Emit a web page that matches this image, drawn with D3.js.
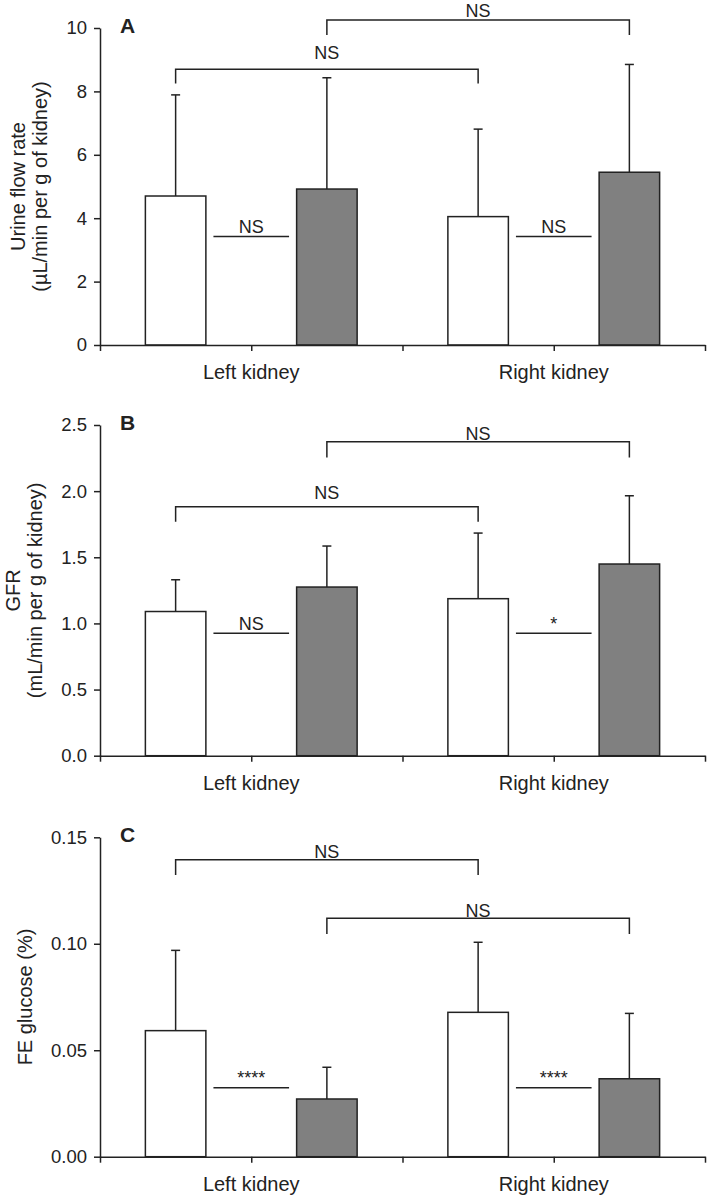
<!DOCTYPE html>
<html>
<head>
<meta charset="utf-8">
<script src="https://cdn.jsdelivr.net/npm/d3@7"></script>
<style>
  body { margin: 0; background: #fff; }
  svg text { font-family: 'Liberation Sans', Arial, sans-serif; fill: #222; }
  .axis path, .axis line { stroke: #222; stroke-width: 1.5px; }
  .axis text { font-size: 18.5px; }
</style>
</head>
<body>
<svg id="chart" width="709" height="1197"></svg>
<script>
// groups on the x axis
const groups = ['Left kidney', 'Right kidney']

// A: urine flow rate (mean and SD), white = control, grey = treated
const urineWhite = [4.70, 4.05]
const urineWhiteSd = [3.19, 2.76]
const urineGrey = [4.92, 5.45]
const urineGreySd = [3.51, 3.40]
const urineTicks = [0, 2, 4, 6, 8, 10]

// B: GFR
const gfrWhite = [1.09, 1.187]
const gfrWhiteSd = [0.24, 0.496]
const gfrGrey = [1.275, 1.449]
const gfrGreySd = [0.31, 0.516]
const gfrTicks = [0, 0.5, 1.0, 1.5, 2.0, 2.5]

// C: FE glucose
const feWhite = [0.0592, 0.0678]
const feWhiteSd = [0.0377, 0.0329]
const feGrey = [0.0271, 0.0366]
const feGreySd = [0.0149, 0.0307]
const feTicks = [0, 0.05, 0.10, 0.15]

// significance between white and grey bars in a group: label, height of the line
const urineSig = ['NS', 'NS']
const urineSigY = 3.42
const gfrSig = ['NS', '*']
const gfrSigY = 0.925
const feSig = ['****', '****']
const feSigY = 0.0324

// brackets between kidneys: [white-white, grey-grey], bar and leg ends
const urineBracket = [8.70, 10.25]
const urineBracketLeg = [8.25, 9.78]
const gfrBracket = [1.882, 2.373]
const gfrBracketLeg = [1.769, 2.255]
const feBracket = [0.1394, 0.1120]
const feBracketLeg = [0.1323, 0.1046]
const bracketLabels = ['NS', 'NS']

let svg = d3.select('#chart')
let x = d3.scaleLinear().domain([0, 4]).range([100, 705])

let panels = [
    {letter: 'A', top: 28, bottom: 345, max: 10, ticks: urineTicks, fmt: d3.format('d'),
     white: urineWhite, whiteSd: urineWhiteSd, grey: urineGrey, greySd: urineGreySd,
     sig: urineSig, sigY: urineSigY, br: urineBracket, brLeg: urineBracketLeg, brGap: [10, 2.7],
     title: ['Urine flow rate', '(µL/min per g of kidney)'], titleX: [25, 47]},
    {letter: 'B', top: 425, bottom: 755.7, max: 2.5, ticks: gfrTicks, fmt: d3.format('.1f'),
     white: gfrWhite, whiteSd: gfrWhiteSd, grey: gfrGrey, greySd: gfrGreySd,
     sig: gfrSig, sigY: gfrSigY, br: gfrBracket, brLeg: gfrBracketLeg, brGap: [7.4, 1.7],
     title: ['GFR', '(mL/min per g of kidney)'], titleX: [20, 42]},
    {letter: 'C', top: 837.3, bottom: 1156.7, max: 0.15, ticks: feTicks, fmt: d3.format('.2f'),
     white: feWhite, whiteSd: feWhiteSd, grey: feGrey, greySd: feGreySd,
     sig: feSig, sigY: feSigY, br: feBracket, brLeg: feBracketLeg, brGap: [2.3, 1.6],
     title: ['FE glucose (%)'], titleX: [32]}
]

panels.forEach(p => drawPanel(p))

function drawPanel(p) {
    let y = d3.scaleLinear().domain([0, p.max]).range([p.bottom, p.top])
    let g = svg.append('g')
    let barW = 0.4
    // bars: white then grey in each group
    let bars = []
    groups.forEach((name, i) => {
        bars.push({c: 1 + 2 * i - 0.5, v: p.white[i], sd: p.whiteSd[i], fill: '#fff'})
        bars.push({c: 1 + 2 * i + 0.5, v: p.grey[i], sd: p.greySd[i], fill: '#808080'})
    })
    // error bars (upper only)
    bars.forEach(d => {
        g.append('line').attr('x1', x(d.c)).attr('x2', x(d.c))
            .attr('y1', y(d.v)).attr('y2', y(d.v + d.sd))
            .attr('stroke', '#222').attr('stroke-width', 1.5)
        g.append('line').attr('x1', x(d.c) - 4.5).attr('x2', x(d.c) + 4.5)
            .attr('y1', y(d.v + d.sd)).attr('y2', y(d.v + d.sd))
            .attr('stroke', '#222').attr('stroke-width', 1.5)
    })
    g.selectAll('rect.bar').data(bars).enter().append('rect')
        .attr('x', d => x(d.c - barW / 2))
        .attr('width', d => x(d.c + barW / 2) - x(d.c - barW / 2))
        .attr('y', d => y(d.v))
        .attr('height', d => y(0) - y(d.v))
        .attr('fill', d => d.fill)
        .attr('stroke', '#222').attr('stroke-width', 1.5)
    // axes
    g.append('g').attr('class', 'axis')
        .attr('transform', 'translate(0,' + p.bottom + ')')
        .call(d3.axisBottom(x).tickValues([0, 1, 2, 3, 4]).tickSize(6).tickSizeOuter(0).tickFormat(''))
    g.append('g').attr('class', 'axis')
        .attr('transform', 'translate(' + x(0) + ',0)')
        .call(d3.axisLeft(y).tickValues(p.ticks).tickSize(6).tickSizeOuter(0).tickPadding(7).tickFormat(p.fmt))
    // group labels
    groups.forEach((name, i) => {
        g.append('text').attr('x', x(1 + 2 * i)).attr('y', p.bottom + 34)
            .attr('text-anchor', 'middle').attr('font-size', 20).text(name)
    })
    // within-group significance
    groups.forEach((name, i) => {
        let c = 1 + 2 * i
        g.append('line').attr('x1', x(c - 0.25)).attr('x2', x(c + 0.25))
            .attr('y1', y(p.sigY)).attr('y2', y(p.sigY))
            .attr('stroke', '#222').attr('stroke-width', 1.5)
        g.append('text').attr('x', x(c)).attr('y', y(p.sigY) - 3.5)
            .attr('text-anchor', 'middle').attr('font-size', 18).text(p.sig[i])
    })
    // brackets between kidneys
    p.br.forEach((h, k) => {
        let x1 = x(0.5 + k), x2 = x(2.5 + k)
        let path = d3.path()
        path.moveTo(x1, y(p.brLeg[k]))
        path.lineTo(x1, y(h))
        path.lineTo(x2, y(h))
        path.lineTo(x2, y(p.brLeg[k]))
        g.append('path').attr('d', path.toString()).attr('fill', 'none')
            .attr('stroke', '#222').attr('stroke-width', 1.5)
        g.append('text').attr('x', (x1 + x2) / 2).attr('y', y(h) - p.brGap[k])
            .attr('text-anchor', 'middle').attr('font-size', 18).text(bracketLabels[k])
    })
    // y title
    let cy = (p.top + p.bottom) / 2
    p.title.forEach((t, k) => {
        g.append('text').attr('transform', 'translate(' + p.titleX[k] + ',' + cy + ') rotate(-90)')
            .attr('text-anchor', 'middle').attr('font-size', 20).text(t)
    })
    // panel letter
    g.append('text').attr('x', 120).attr('y', p.top + 5)
        .attr('font-size', 21).attr('font-weight', 'bold').text(p.letter)
}
</script>
</body>
</html>
